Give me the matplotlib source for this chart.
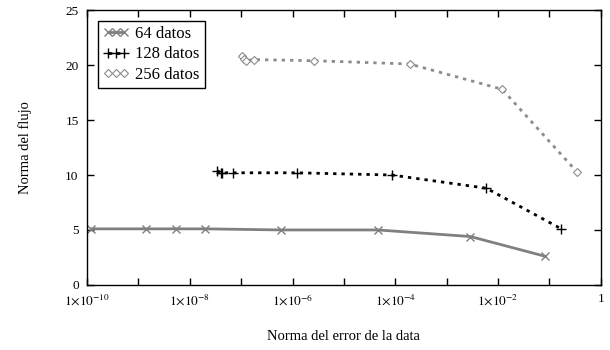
import numpy as np
import matplotlib
matplotlib.use('Agg')
from matplotlib import pyplot as plt
from matplotlib.ticker import FixedLocator, FuncFormatter, NullLocator

## data ##
err_64 = [1.2e-10, 1.4e-9, 5.4e-9, 2.0e-8, 6.0e-7, 4.6e-5, 2.9e-3, 8.3e-2]
flux_64 = [5.1, 5.1, 5.1, 5.1, 5.0, 5.0, 4.4, 2.6]

err_128 = [3.4e-8, 4.0e-8, 4.3e-8, 6.8e-8, 1.2e-6, 8.5e-5, 5.9e-3, 1.7e-1]
flux_128 = [10.4, 10.2, 10.2, 10.2, 10.2, 10.0, 8.8, 5.1]

err_256 = [1.05e-7, 1.12e-7, 1.23e-7, 1.75e-7, 2.6e-6, 1.9e-4, 1.2e-2, 0.34]
flux_256 = [20.8, 20.6, 20.4, 20.5, 20.4, 20.1, 17.8, 10.3]

labels = ['64 datos', '128 datos', '256 datos']

plt.rcParams['font.family'] = ['Liberation Serif', 'DejaVu Serif']
plt.rcParams['mathtext.fontset'] = 'stix'

fig = plt.figure(figsize=(6.1, 3.5), dpi=100)
ax = fig.add_axes([0.1426, 0.186, 0.8424, 0.785])

ax.plot(err_64, flux_64, color='#808080', lw=2, marker='x', ms=6,
        mew=1, label=labels[0])
ax.plot(err_128, flux_128, color='black', lw=2, ls=(0, (1.2, 1.8)), marker='+',
        ms=7, mew=1, label=labels[1])
ax.plot(err_256, flux_256, color='#8c8c8c', lw=2, ls=(0, (1.2, 1.8)), marker='D',
        ms=4, mew=0.8, mfc='white', label=labels[2])

ax.set_xscale('log')
ax.set_xlim(1e-10, 1)
ax.set_ylim(0, 25)
ax.set_yticks([0, 5, 10, 15, 20, 25])

def fmt(v, pos):
    e = int(round(np.log10(v)))
    if e == 0:
        return '1'
    if e % 2:
        return ''
    return r'$1{\times}10^{%d}$' % e

ax.xaxis.set_major_locator(FixedLocator([10.0**k for k in range(-10, 1)]))
ax.xaxis.set_major_formatter(FuncFormatter(fmt))
ax.xaxis.set_minor_locator(NullLocator())
ax.tick_params(direction='in', top=True, right=True, length=5, width=1,
               labelsize=9.5, pad=6)
for s in ax.spines.values():
    s.set_linewidth(1)

ax.set_xlabel('Norma del error de la data', fontsize=10.5, labelpad=15)
ax.set_ylabel('Norma del flujo', fontsize=10.5, labelpad=24)

leg = ax.legend(loc='upper left', numpoints=3, fontsize=12, fancybox=False,
                edgecolor='black', framealpha=1, borderaxespad=0.65,
                handlelength=1.6, handletextpad=0.35, labelspacing=0.27,
                borderpad=0.3)
leg.get_frame().set_linewidth(1)

fig.savefig('out.png', dpi=100)
